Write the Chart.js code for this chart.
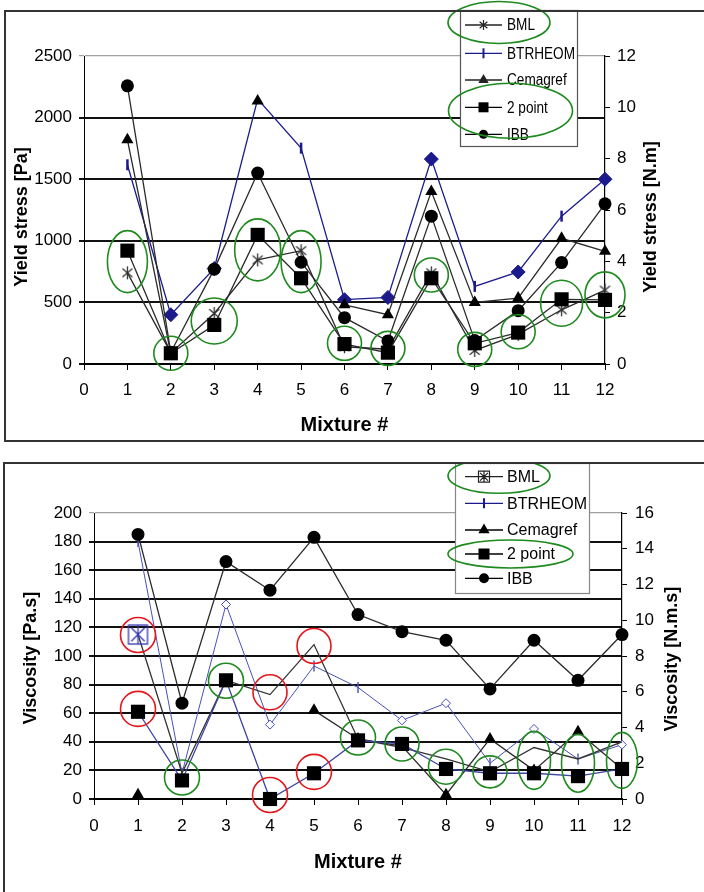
<!DOCTYPE html>
<html>
<head>
<meta charset="utf-8">
<script src="https://cdn.jsdelivr.net/npm/chart.js@4.4.1/dist/chart.umd.min.js"></script>
<style>
  html, body { margin: 0; padding: 0; background: #fff; }
  body { width: 704px; height: 892px; position: relative; overflow: hidden; }
  .frame { position: absolute; border: 2px solid #333; pointer-events: none; z-index: 2; }
  #frameTop { left: 4px; top: 10px; width: 760px; height: 428px; }
  #frameBottom { left: 3px; top: 462px; width: 760px; height: 500px; }
  canvas { position: absolute; left: 0; z-index: 1; }
  #yieldChart { top: 0; width: 704px; height: 440px; }
  #viscChart { top: 462px; width: 704px; height: 430px; }
</style>
</head>
<body>
<canvas id="yieldChart" width="704" height="440"></canvas>
<canvas id="viscChart" width="704" height="430"></canvas>
<div class="frame" id="frameTop"></div>
<div class="frame" id="frameBottom"></div>
<script>
// shared categories
const mixtureTicks = [0, 1, 2, 3, 4, 5, 6, 7, 8, 9, 10, 11, 12];
const mixtures = [1, 2, 3, 4, 5, 6, 7, 8, 9, 10, 11, 12];
const seriesNames = ['BML', 'BTRHEOM', 'Cemagref', '2 point', 'IBB'];

// yield stress chart (left axis Pa, right axis N.m)
const yieldTicksPa = [0, 500, 1000, 1500, 2000, 2500];
const yieldTicksNm = [0, 2, 4, 6, 8, 10, 12];
const yieldBML = [740, 90, 410, 845, 920, 140, 120, 740, 110, 240, 440, 600];
const yieldBTRHEOM = [1617, 400, 775, 2150, 1752, 522, 540, 1663, 630, 747, 1200, 1500];
const yieldCemagref = [1820, 85, null, 2135, null, 480, 400, 1400, 500, 535, 1020, 915];
const yield2Point = [920, 87, 317, 1048, 696, 162, 92, 696, 168, 255, 525, 520];
const yieldIBB = [2258, 95, 770, 1550, 826, 376, 187, 1200, 190, 433, 823, 1300];

// viscosity chart (left axis Pa.s, right axis N.m.s)
const viscTicksPas = [0, 20, 40, 60, 80, 100, 120, 140, 160, 180, 200];
const viscTicksNms = [0, 2, 4, 6, 8, 10, 12, 14, 16];
const viscBML = [115, 18, 83, 73, 108, 42, 36, 28, 19, 36, 28, 40];
const viscBTRHEOM = [180, 18, 136, 52, 93, 78, 55, 67, 25, 49, 28, 38];
const viscCemagref = [3, null, null, null, 62, 42, 37, 3, 42, 20, 47, 21];
const visc2Point = [61, 13, 83, 0, 18, 41, 38.5, 21, 18, 18, 16, 21];
const viscIBB = [185, 67, 166, 146, 183, 129, 117, 111, 77, 111, 83, 115];

// marker kinds for the BTRHEOM series (style only)
const yieldBtrMarks = ['dash', 'diamond', 'diamond', 'none', 'dash', 'diamond', 'diamond', 'diamond', 'dash', 'diamond', 'dash', 'diamond'];
const viscBtrMarks = ['dash', 'dash', 'hollow', 'hollow', 'dash', 'dash', 'hollow', 'hollow', 'dash', 'hollow', 'dash', 'hollow'];

// hand-drawn rings: [mixture, value, rx, ry]
const yieldGreenRings = [
    [1, 831, 20, 31], [2, 87, 17, 17], [3, 349, 23, 23], [4, 926, 23, 31], [5, 831, 20, 31],
    [6, 168, 17, 17], [7, 127, 17, 17], [8, 723, 17, 17], [9, 119, 17, 17], [10, 262, 17, 17],
    [11, 493, 21, 23], [12, 561, 20, 23]
];
const viscRedRings = [
    [1, 114.7, 17.5, 17.5], [1, 63, 17.5, 17.5], [4, 74.6, 17, 17.5],
    [4, 2.8, 17.5, 17.5], [5, 107, 17, 17.5], [5, 19, 17.5, 17.5]
];
const viscGreenRings = [
    [2, 15, 17.5, 17.5], [3, 82.7, 17.5, 17.5], [6, 43, 17.5, 17.5], [7, 38.5, 17, 17],
    [8, 22.6, 17.5, 17.5], [9, 19, 17, 16], [10, 27, 16.5, 29], [11, 25, 16.5, 29], [12, 27, 15.5, 28]
];

const FONT = "'Liberation Sans', Arial, sans-serif";
Chart.defaults.font.family = FONT;
Chart.defaults.color = '#000';

const GREEN = '#1f8a1f';
const RED = '#e3161c';
const NAVY = '#1b1b8c';

function pts(vals) {
    return mixtures.map((m, i) => ({ x: m, y: vals[i] }));
}

// small canvas used as a point style: asterisk, optionally boxed
function asteriskImage(r, color, lw, boxed) {
    const c = document.createElement('canvas');
    const s = Math.ceil(r * 2 + 4);
    c.width = s; c.height = s;
    const g = c.getContext('2d');
    const m = s / 2;
    g.strokeStyle = color;
    g.lineWidth = lw;
    g.beginPath();
    g.moveTo(m, m - r); g.lineTo(m, m + r);
    const a = boxed ? Math.PI / 4 : Math.PI * 0.22;
    const dx = r * Math.cos(a), dy = r * Math.sin(a);
    g.moveTo(m - dx, m - dy); g.lineTo(m + dx, m + dy);
    g.moveTo(m - dx, m + dy); g.lineTo(m + dx, m - dy);
    g.stroke();
    if (boxed) g.strokeRect(m - r, m - r, 2 * r, 2 * r);
    return c;
}

function markStyles(kinds, color, dashWidth) {
    return {
        pointStyle: kinds.map(k => k === 'dash' ? 'line' : (k === 'none' ? 'circle' : 'rectRot')),
        pointRadius: kinds.map(k => k === 'dash' ? 5.5 : k === 'diamond' ? 7 : k === 'hollow' ? 4.5 : 0),
        pointRotation: kinds.map(k => k === 'dash' ? 90 : 0),
        pointBorderWidth: kinds.map(k => k === 'dash' ? dashWidth : 1),
        pointBackgroundColor: kinds.map(k => k === 'hollow' ? '#fff' : color),
        pointBorderColor: color
    };
}

function ringPlugin(groups) {
    return {
        id: 'rings',
        afterDatasetsDraw(chart) {
            const { ctx, scales } = chart;
            ctx.save();
            ctx.lineWidth = 1.6;
            groups.forEach(g => {
                ctx.strokeStyle = g.color;
                g.items.forEach(([m, v, rx, ry]) => {
                    ctx.beginPath();
                    ctx.ellipse(scales.x.getPixelForValue(m), scales.y.getPixelForValue(v), rx, ry, 0, 0, Math.PI * 2);
                    ctx.stroke();
                });
            });
            ctx.restore();
        }
    };
}

function sideTitlePlugin(items) {
    return {
        id: 'sideTitles',
        afterDraw(chart) {
            const { ctx, chartArea } = chart;
            const cy = (chartArea.top + chartArea.bottom) / 2;
            ctx.save();
            ctx.font = 'bold 18px ' + FONT;
            ctx.fillStyle = '#000';
            ctx.textAlign = 'center';
            ctx.textBaseline = 'middle';
            items.forEach(t => {
                ctx.save();
                ctx.translate(t.x, cy + t.dy);
                ctx.rotate(-Math.PI / 2);
                ctx.fillText(t.text, 0, 0);
                ctx.restore();
            });
            ctx.restore();
        }
    };
}

function drawMark(ctx, kind, x, y, r, color) {
    ctx.save();
    ctx.fillStyle = color;
    ctx.strokeStyle = color;
    ctx.beginPath();
    if (kind === 'asterisk' || kind === 'boxstar') {
        ctx.lineWidth = 1.2;
        const a = kind === 'boxstar' ? Math.PI / 4 : Math.PI * 0.22;
        const dx = r * Math.cos(a), dy = r * Math.sin(a);
        ctx.moveTo(x, y - r); ctx.lineTo(x, y + r);
        ctx.moveTo(x - dx, y - dy); ctx.lineTo(x + dx, y + dy);
        ctx.moveTo(x - dx, y + dy); ctx.lineTo(x + dx, y - dy);
        if (kind === 'boxstar') ctx.rect(x - r, y - r, 2 * r, 2 * r);
        ctx.stroke();
    } else if (kind === 'dash') {
        ctx.lineWidth = 2;
        ctx.moveTo(x, y - r); ctx.lineTo(x, y + r);
        ctx.stroke();
    } else if (kind === 'triangle') {
        ctx.moveTo(x, y - r);
        ctx.lineTo(x + r * 0.866, y + r * 0.5);
        ctx.lineTo(x - r * 0.866, y + r * 0.5);
        ctx.closePath();
        ctx.fill();
    } else if (kind === 'rect') {
        ctx.fillRect(x - r, y - r, 2 * r, 2 * r);
    } else if (kind === 'circle') {
        ctx.arc(x, y, r, 0, Math.PI * 2);
        ctx.fill();
    }
    ctx.restore();
}

function boxLegendPlugin(cfg) {
    return {
        id: 'boxLegend',
        afterDraw(chart) {
            const ctx = chart.ctx;
            const b = cfg.box;
            ctx.save();
            ctx.fillStyle = '#fff';
            ctx.fillRect(b.x, b.y, b.w, b.h);
            ctx.strokeStyle = cfg.boxColor;
            ctx.lineWidth = 1.2;
            ctx.strokeRect(b.x, b.y, b.w, b.h);
            cfg.entries.forEach((e, i) => {
                const y = cfg.rows[i];
                ctx.strokeStyle = e.color;
                ctx.lineWidth = 1.3;
                ctx.beginPath();
                ctx.moveTo(cfg.lineX[0], y);
                ctx.lineTo(cfg.lineX[1], y);
                ctx.stroke();
                drawMark(ctx, e.mark, (cfg.lineX[0] + cfg.lineX[1]) / 2, y, e.size, e.color);
                ctx.save();
                ctx.fillStyle = '#000';
                ctx.font = cfg.fontSize + 'px ' + FONT;
                ctx.textAlign = 'left';
                ctx.textBaseline = 'middle';
                ctx.translate(cfg.textX, y + 1);
                ctx.scale(cfg.squeeze, 1);
                ctx.fillText(seriesNames[i], 0, 0);
                ctx.restore();
            });
            ctx.strokeStyle = GREEN;
            ctx.lineWidth = 1.6;
            cfg.rings.forEach(([cx, cy, rx, ry]) => {
                ctx.beginPath();
                ctx.ellipse(cx, cy, rx, ry, 0, 0, Math.PI * 2);
                ctx.stroke();
            });
            ctx.restore();
        }
    };
}

function buildScales(o) {
    return {
        x: {
            type: 'linear', min: 0, max: 12,
            afterFit: s => { s.height = o.xHeight; },
            afterBuildTicks: s => { s.ticks = mixtureTicks.map(v => ({ value: v })); },
            ticks: { autoSkip: false, maxRotation: 0, padding: o.xPad, font: { size: 17 }, color: '#000', callback: v => String(v) },
            grid: { drawOnChartArea: false, drawTicks: true, tickLength: 6, color: '#000', lineWidth: 1 },
            border: { display: true, color: '#000', width: 2 },
            title: { display: true, text: 'Mixture #', color: '#000', font: { size: 20, weight: 'bold' }, padding: { top: 0, bottom: o.titlePad } }
        },
        y: {
            position: 'left', min: o.left[0], max: o.left[o.left.length - 1],
            afterFit: s => { s.width = o.leftWidth; },
            afterBuildTicks: s => { s.ticks = o.left.map(v => ({ value: v })); },
            ticks: { padding: 7, font: { size: 17 }, color: '#000', callback: v => String(v) },
            grid: {
                color: c => (c.tick && c.tick.value === o.left[o.left.length - 1]) ? '#a0a0a0' : '#111',
                lineWidth: c => (c.tick && c.tick.value === o.left[o.left.length - 1]) ? 1.2 : 2,
                tickLength: 5
            },
            border: { display: true, color: '#000', width: 1 }
        },
        y2: {
            position: 'right', min: o.right[0], max: o.right[o.right.length - 1],
            afterFit: s => { s.width = o.rightWidth; },
            afterBuildTicks: s => { s.ticks = o.right.map(v => ({ value: v })); },
            ticks: { padding: o.rightPad, font: { size: 17 }, color: '#000', callback: v => String(v) },
            grid: { drawOnChartArea: false, drawTicks: true, tickLength: 5, color: '#000', lineWidth: 1 },
            border: { display: true, color: '#000', width: 1.2 }
        }
    };
}

function lineSet(label, vals, extra) {
    return Object.assign({
        label: label,
        data: pts(vals),
        yAxisID: 'y',
        borderColor: '#2a2a2a',
        borderWidth: 1.3,
        pointBorderWidth: 0,
        pointBackgroundColor: '#000',
        pointBorderColor: '#000',
        tension: 0,
        fill: false,
        clip: false,
        spanGaps: false
    }, extra);
}

// ---------- yield stress chart ----------
const yieldStar = asteriskImage(6.5, '#333', 1.3, false);
new Chart(document.getElementById('yieldChart'), {
    type: 'line',
    data: {
        datasets: [
            lineSet('2 point', yield2Point, { pointStyle: 'rect', pointRadius: 10, order: 0 }),
            lineSet('IBB', yieldIBB, { pointStyle: 'circle', pointRadius: 6.5, order: 1 }),
            lineSet('Cemagref', yieldCemagref, { pointStyle: 'triangle', pointRadius: 7, order: 2 }),
            lineSet('BML', yieldBML, { pointStyle: yieldStar, pointRadius: 6, order: 3 }),
            lineSet('BTRHEOM', yieldBTRHEOM, Object.assign({ borderColor: NAVY, order: 4 }, markStyles(yieldBtrMarks, NAVY, 2.5)))
        ]
    },
    options: {
        responsive: false,
        animation: false,
        layout: { padding: { top: 56, left: 0, right: 0, bottom: 0 } },
        plugins: { legend: { display: false }, tooltip: { enabled: false } },
        scales: buildScales({
            xHeight: 76, xPad: 10, titlePad: 3,
            left: yieldTicksPa, leftWidth: 84,
            right: yieldTicksNm, rightWidth: 99, rightPad: 7
        })
    },
    plugins: [
        ringPlugin([{ color: GREEN, items: yieldGreenRings }]),
        sideTitlePlugin([
            { text: 'Yield stress [Pa]', x: 22, dy: 7 },
            { text: 'Yield stress [N.m]', x: 651, dy: 7 }
        ]),
        boxLegendPlugin({
            box: { x: 460.5, y: 10.5, w: 117, h: 136 },
            boxColor: '#555',
            rows: [25, 53.3, 80, 107.3, 134.3],
            lineX: [465, 502],
            textX: 507, fontSize: 16, squeeze: 0.85,
            entries: [
                { mark: 'asterisk', size: 5, color: '#222' },
                { mark: 'dash', size: 5, color: NAVY },
                { mark: 'triangle', size: 6, color: '#222' },
                { mark: 'rect', size: 5, color: '#000' },
                { mark: 'circle', size: 4.5, color: '#000' }
            ],
            rings: [[499, 22.5, 51, 21], [510.5, 110.8, 62, 27.5]]
        })
    ]
});

// ---------- viscosity chart ----------
const viscBox = asteriskImage(9.5, '#3535b0', 1.3, true);
new Chart(document.getElementById('viscChart'), {
    type: 'line',
    data: {
        datasets: [
            lineSet('2 point', visc2Point, { borderColor: '#3c44a4', pointStyle: 'rect', pointRadius: 10, order: 0 }),
            lineSet('IBB', viscIBB, { pointStyle: 'circle', pointRadius: 6.5, order: 1 }),
            lineSet('Cemagref', viscCemagref, { pointStyle: 'triangle', pointRadius: 7, order: 2 }),
            lineSet('BML', viscBML, {
                borderColor: '#333', order: 3,
                pointStyle: mixtures.map((m, i) => i === 0 ? viscBox : 'circle'),
                pointRadius: mixtures.map((m, i) => i === 0 ? 9 : 0)
            }),
            lineSet('BTRHEOM', viscBTRHEOM, Object.assign({ borderColor: '#4a50b4', borderWidth: 1, order: 4 }, markStyles(viscBtrMarks, '#4a50b4', 1.4)))
        ]
    },
    options: {
        responsive: false,
        animation: false,
        layout: { padding: { top: 51, left: 0, right: 0, bottom: 0 } },
        plugins: { legend: { display: false }, tooltip: { enabled: false } },
        scales: buildScales({
            xHeight: 93, xPad: 11, titlePad: 18,
            left: viscTicksPas, leftWidth: 94,
            right: viscTicksNms, rightWidth: 82, rightPad: 8
        })
    },
    plugins: [
        ringPlugin([{ color: RED, items: viscRedRings }, { color: GREEN, items: viscGreenRings }]),
        sideTitlePlugin([
            { text: 'Viscosity [Pa.s]', x: 31, dy: 2 },
            { text: 'Viscosity [N.m.s]', x: 672, dy: 3 }
        ]),
        boxLegendPlugin({
            box: { x: 455.5, y: 1.5, w: 134, h: 130 },
            boxColor: '#888',
            rows: [14.7, 41.3, 68, 92, 116.3],
            lineX: [465, 503],
            textX: 507, fontSize: 16, squeeze: 1,
            entries: [
                { mark: 'boxstar', size: 5.5, color: '#222' },
                { mark: 'dash', size: 5, color: NAVY },
                { mark: 'triangle', size: 6.5, color: '#000' },
                { mark: 'rect', size: 5.5, color: '#000' },
                { mark: 'circle', size: 5, color: '#000' }
            ],
            rings: [[499, 13.8, 51, 17.5], [510.5, 92, 62.5, 14]]
        })
    ]
});
</script>
</body>
</html>
